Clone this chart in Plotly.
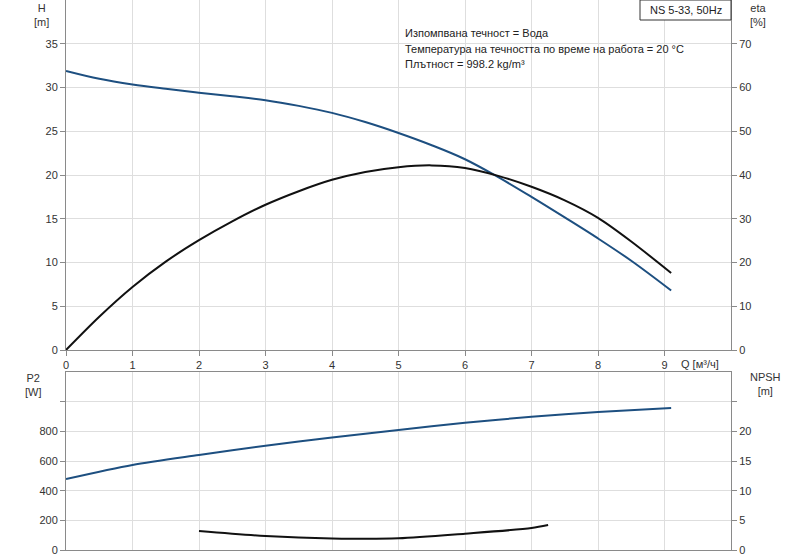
import plotly.graph_objects as go

# Data
q_h = [0, 0.5, 1, 1.5, 2, 2.5, 3, 3.5, 4, 4.5, 5, 5.5, 6, 6.5, 7, 7.5, 8, 8.5, 9.1]
h = [31.9, 31.0, 30.35, 29.85, 29.4, 29.0, 28.55, 27.9, 27.1, 26.05, 24.8, 23.4, 21.8, 19.75, 17.5, 15.15, 12.75, 10.2, 6.8]

q_eta = [0, 0.5, 1, 1.5, 2, 2.5, 3, 3.5, 4, 4.5, 5, 5.5, 6, 6.5, 7, 7.5, 8, 8.5, 9.1]
eta = [0, 7.6, 14.4, 20.2, 25.1, 29.4, 33.2, 36.3, 38.9, 40.7, 41.8, 42.2, 41.6, 39.8, 37.3, 34.2, 30.2, 24.8, 17.6]

q_p2 = [0, 1, 2, 3, 4, 5, 6, 7, 8, 9.1]
p2 = [478, 573, 640, 703, 759, 809, 858, 898, 930, 957]

q_npsh = [2, 3, 4, 5, 6, 7, 7.25]
npsh = [3.2, 2.36, 1.95, 1.97, 2.75, 3.7, 4.2]

x_ticks = [0, 1, 2, 3, 4, 5, 6, 7, 8, 9]
h_ticks = [0, 5, 10, 15, 20, 25, 30, 35]
eta_ticks = [0, 10, 20, 30, 40, 50, 60, 70]
p2_ticks = [0, 200, 400, 600, 800, 1000]
p2_text = ["0", "200", "400", "600", "800", ""]
npsh_ticks = [0, 5, 10, 15, 20, 25]
npsh_text = ["0", "5", "10", "15", "20", ""]

info_lines = ["Изпомпвана течност = Вода",
              "Температура на течността по време на работа = 20 °C",
              "Плътност = 998.2 kg/m³"]

BLUE = "#1d4f80"
BLACK = "#111111"
AX = "#8a8a8a"
GRID = "#dedede"
FONT = "Liberation Sans, Arial, sans-serif"
W, H = 800, 560


def px(xp):
    return xp / W


def py(yp):
    return 1 - yp / H


fig = go.Figure()
fig.add_trace(go.Scatter(x=q_h, y=h, mode="lines", line=dict(color=BLUE, width=2, shape="spline", smoothing=1.0),
                         xaxis="x", yaxis="y", showlegend=False))
fig.add_trace(go.Scatter(x=q_eta, y=eta, mode="lines", line=dict(color=BLACK, width=2, shape="spline", smoothing=0.8),
                         xaxis="x", yaxis="y2", showlegend=False))
fig.add_trace(go.Scatter(x=q_p2, y=p2, mode="lines", line=dict(color=BLUE, width=2, shape="spline", smoothing=0.8),
                         xaxis="x2", yaxis="y3", showlegend=False))
fig.add_trace(go.Scatter(x=q_npsh, y=npsh, mode="lines", line=dict(color=BLACK, width=2, shape="spline", smoothing=0.8),
                         xaxis="x2", yaxis="y4", showlegend=False))

xdom = [px(66), px(731)]
top_dom = [py(350), py(0)]
bot_dom = [py(550), py(372)]

common = dict(showline=True, linecolor=AX, linewidth=1, gridcolor=GRID, gridwidth=1,
              ticks="outside", ticklen=5, tickcolor=AX, zeroline=False, automargin=False,
              tickfont=dict(family=FONT, size=11, color="#333333"))
nogrid = {k: v for k, v in common.items() if k not in ("gridcolor", "gridwidth")}
noticks = {k: v for k, v in common.items() if k not in ("ticks",)}

fig.update_layout(
    width=W, height=H, margin=dict(l=0, r=0, t=0, b=0, pad=0),
    paper_bgcolor="white", plot_bgcolor="white",
    font=dict(family=FONT, size=11, color="#333333"),
    xaxis=dict(domain=xdom, anchor="y", range=[0, 10], tickvals=x_ticks, mirror=True, **common),
    yaxis=dict(domain=top_dom, anchor="x", range=[0, 40], tickvals=h_ticks, mirror=True, **common),
    yaxis2=dict(overlaying="y", side="right", anchor="x", range=[0, 80], tickvals=eta_ticks,
                showgrid=False, **nogrid),
    xaxis2=dict(domain=xdom, anchor="y3", range=[0, 10], tickvals=x_ticks, showticklabels=False,
                ticks="", mirror=True, **noticks),
    yaxis3=dict(domain=bot_dom, anchor="x2", range=[0, 1200], tickvals=p2_ticks, ticktext=p2_text,
                mirror=True, **common),
    yaxis4=dict(overlaying="y3", side="right", anchor="x2", range=[0, 30], tickvals=npsh_ticks,
                ticktext=npsh_text, showgrid=False, **nogrid),
)

ann = []
def lab(text, x, y, xanchor="center", yanchor="top", size=11):
    ann.append(dict(text=text, x=px(x), y=py(y), xref="paper", yref="paper", showarrow=False,
                    xanchor=xanchor, yanchor=yanchor, font=dict(family=FONT, size=size, color="#333333")))

lab("H<br>[m]", 41, 0)
lab("eta<br>[%]", 758, 0)
lab("P2<br>[W]", 33, 370)
lab("NPSH<br>[m]", 765, 369)
lab("Q [м³/ч]", 700, 356, yanchor="top")
for i, t in enumerate(info_lines):
    ann.append(dict(text=t, x=px(403), y=py(33 + 15.5 * i), xref="paper", yref="paper", showarrow=False,
                    xanchor="left", yanchor="middle", font=dict(family=FONT, size=11, color="#222222")))
ann.append(dict(text="NS 5-33, 50Hz", x=px(686), y=py(10), xref="paper", yref="paper", showarrow=False,
                xanchor="center", yanchor="middle", font=dict(family=FONT, size=11, color="#222222")))
fig.update_layout(annotations=ann)

fig.add_shape(type="rect", xref="paper", yref="paper", x0=px(640), x1=px(731), y0=py(20), y1=py(0),
              line=dict(color="#333333", width=1), fillcolor="white", layer="above")

fig.write_html("out.html", config={"displayModeBar": False},
               post_script="document.body.style.margin='0';")
